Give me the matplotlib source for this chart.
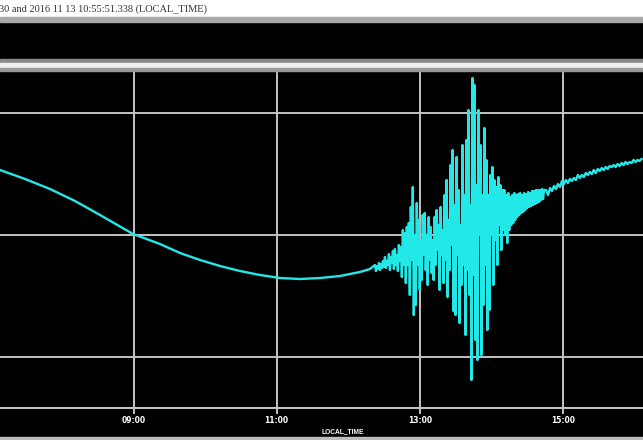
import matplotlib
matplotlib.use("Agg")
import matplotlib.pyplot as plt
from matplotlib.patches import Rectangle
from matplotlib.ticker import FixedLocator, FuncFormatter
import numpy as np

W, H = 643, 440  # output size in px

# --- data (amplitude in arbitrary units, time in local hours) ---
TITLE = "30 and 2016 11 13 10:55:51.338 (LOCAL_TIME)"
# quiet part before the event
PRE_T_H = [7.135, 7.485, 7.834, 8.183, 8.532, 8.993, 9.370, 9.649, 9.929,
           10.208, 10.487, 10.767, 11.046, 11.325, 11.605, 11.884, 12.163, 12.303]
PRE_AMP = [65, 56, 46, 34, 20, 1, -9, -18, -25,
           -31, -36, -40, -43, -44, -43, -41, -37, -34]
# event window, sampled every 50 s
EVT_T0_H = 12.373
EVT_DT_S = 50
EVT_AMP = [
    -30, -36, -31, -34, -28, -35, -29, -33, -26, -32,
    -22, -33, -26, -30, -19, -35, -22, -28, -16, -34,
    -14, -30, -20, -36, -10, -26, -12, -42, 5, -30,
    2, -48, 8, -30, 12, -60, 28, -25, 48, -80,
    0, -70, 32, -30, 15, -55, -5, -45, 20, -20,
    22, -35, 0, -50, 18, -25, 8, -38, -5, -45,
    18, -30, 25, -15, 10, -55, 28, -20, 5, -48,
    40, -25, 55, -62, 15, -35, 70, -10, 85, -76,
    30, -80, 78, -20, 45, -88, 10, -50, 90, -30,
    40, -100, 95, -35, 125, -60, 30, -145, 157, -40,
    150, -105, 50, -125, 125, 0, 90, -120, 40, -70,
    107, -30, 75, -95, 40, -75, 60, 0, 68, -50,
    55, -5, 48, -30, 58, 10, 50, -15, 45, 5,
    45, 0, 40, -8, 42, 5, 38, 10, 40, 12,
    42, 15, 40, 18, 41, 20, 42, 22, 40, 23,
    42, 25, 41, 27, 43, 28, 42, 29, 44, 30,
    44, 31, 45, 32, 45, 33, 45, 35, 46, 36, 45,
]
# coda / tail, sampled every 100 s
TAIL_DT_S = 100
TAIL_AMP = [
    45, 40, 47, 44, 49, 46, 51, 48, 54, 51,
    55, 52, 56, 54, 57, 55, 60, 57, 60, 58,
    62, 60, 63, 61, 65, 62, 66, 64, 67, 65,
    68, 66, 69, 68, 70, 68, 71, 69, 72, 70,
    73, 71, 73, 72, 75, 73, 75, 74, 76,
]
X_TICKS = [9, 11, 13, 15]
Y_GRID = [-122, 0, 122]
XLIM = (7.135, 16.116)
YLIM = (-173, 164)

CYAN = "#22e8e8"
GRID = "#c4c4c4"

evt_t = EVT_T0_H + np.arange(len(EVT_AMP)) * EVT_DT_S / 3600
tail_t = evt_t[-1] + (np.arange(len(TAIL_AMP)) + 1) * TAIL_DT_S / 3600
t = np.concatenate([PRE_T_H, evt_t, tail_t])
amp = np.concatenate([PRE_AMP, EVT_AMP, TAIL_AMP])

fig = plt.figure(figsize=(W / 100, H / 100), dpi=100, facecolor="black")


def band(y0, y1, color):
    fig.patches.append(Rectangle((0, 1 - y1 / H), 1, (y1 - y0) / H,
                                 transform=fig.transFigure, color=color, zorder=0))


# window chrome around the plot
band(0, 17, "white")
band(17, 22, "#a8a8a8")
band(59, 63, "#8a8a8a")
band(63, 68, "#f0f0f0")
band(68, 71, "#9a9a9a")
band(437, 440, "#bdbdbd")

fig.text(-0.002, 1 - 9 / H, TITLE, ha="left", va="center", fontsize=7.5,
         family="Liberation Serif", color="#333333")

ax = fig.add_axes([0, 1 - 408 / H, 1, (408 - 71) / H], facecolor="black")
ax.plot(t, amp, color=CYAN, lw=1.7, solid_joinstyle="round")
ax.set_xlim(*XLIM)
ax.set_ylim(*YLIM)

ax.xaxis.set_major_locator(FixedLocator(X_TICKS))
ax.xaxis.set_major_formatter(FuncFormatter(lambda v, p: f"{int(v):02d}:00"))
ax.yaxis.set_major_locator(FixedLocator(Y_GRID))
ax.set_yticklabels([])
ax.tick_params(axis="y", length=0)
ax.tick_params(axis="x", length=4, width=1.4, color=GRID, colors="white",
               labelsize=5.5, pad=2)
for lab in ax.get_xticklabels():
    lab.set_fontweight("bold")
ax.grid(True, color=GRID, lw=1.4, zorder=0)
ax.set_axisbelow(True)
for s in ("top", "left", "right"):
    ax.spines[s].set_visible(False)
ax.spines["bottom"].set_color(GRID)
ax.spines["bottom"].set_linewidth(1.5)

fig.text(343 / W, 1 - 432 / H, "LOCAL_TIME", ha="center", va="center",
         fontsize=4.8, fontweight="bold", color="white", family="Liberation Sans")

fig.savefig("out.png", dpi=100, facecolor="black")
